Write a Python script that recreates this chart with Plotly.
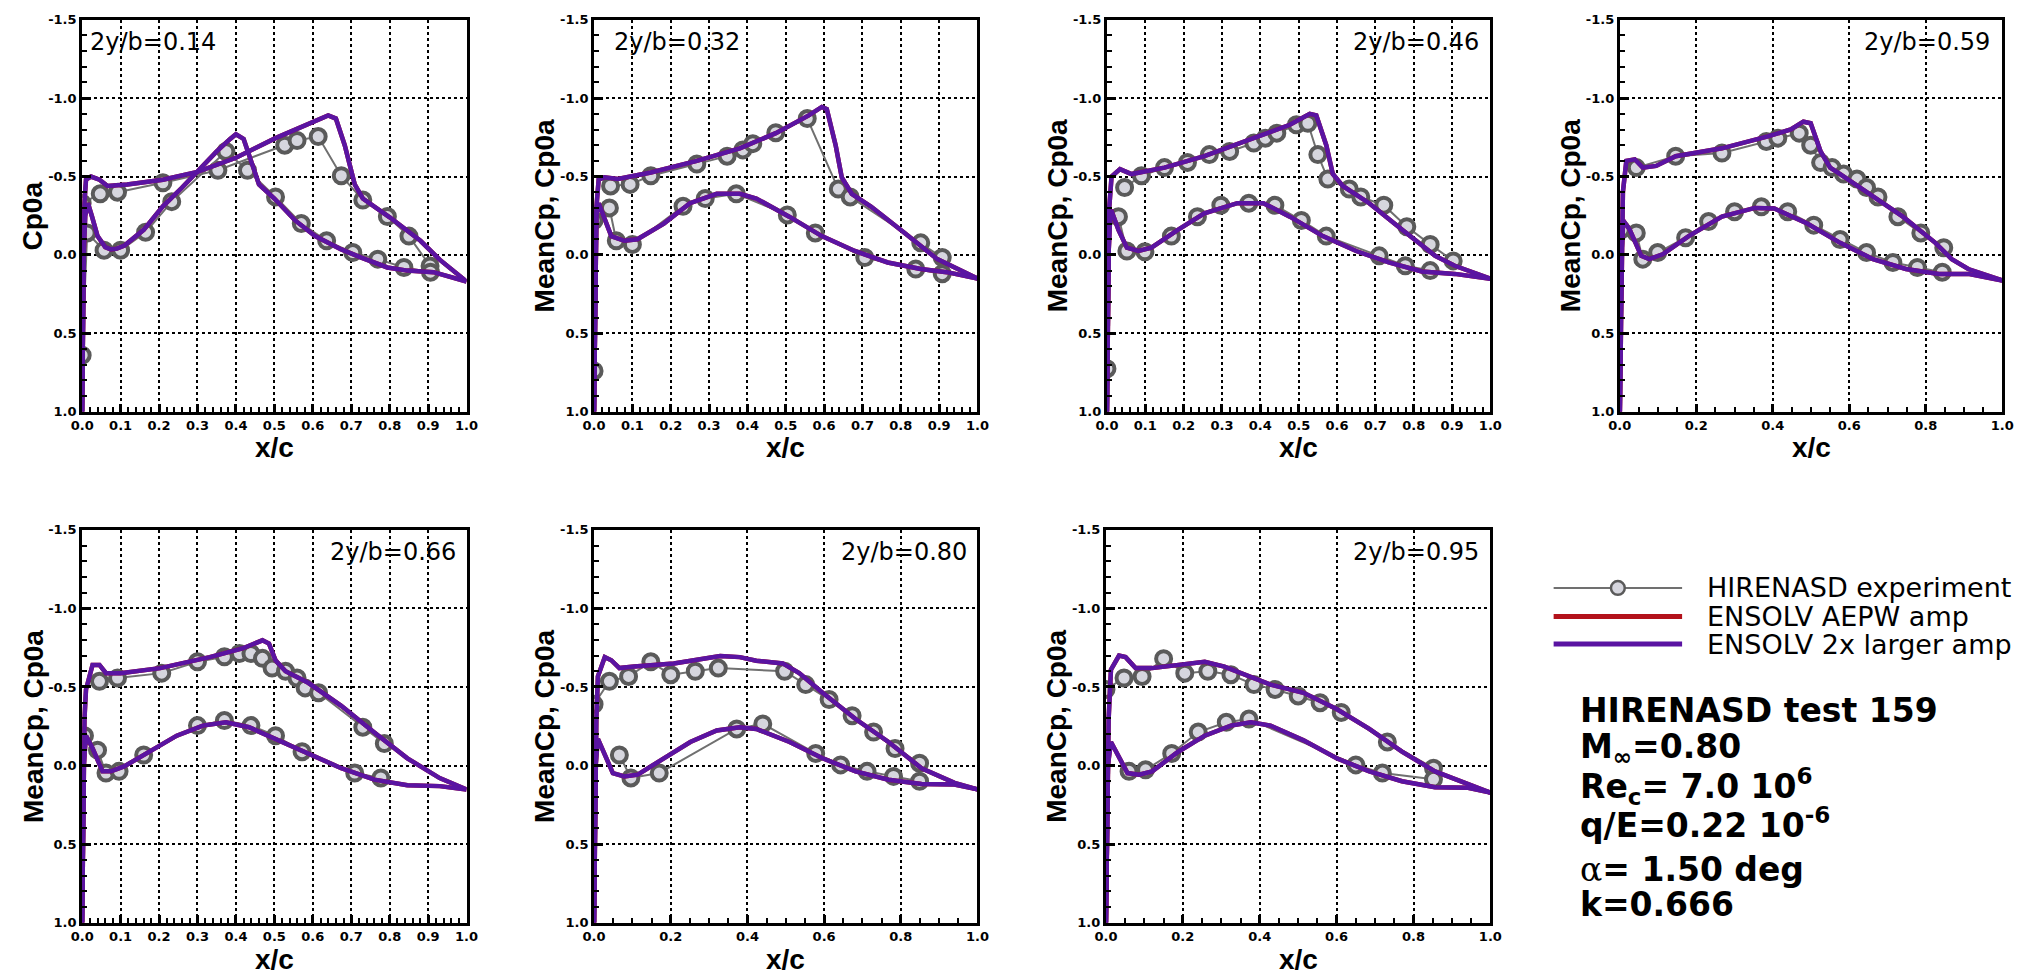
import plotly.graph_objects as go

# ---------------- data: mean Cp per span station ----------------
# 2y/b = 0.14
exp_up_x_014 = [0.0, 0.047, 0.092, 0.21, 0.353, 0.527, 0.559, 0.614, 0.674, 0.73, 0.794, 0.85, 0.905]
exp_up_cp_014 = [-0.33, -0.39, -0.40, -0.46, -0.54, -0.70, -0.73, -0.755, -0.505, -0.35, -0.245, -0.12, 0.07]
exp_lo_x_014 = [0.0, 0.013, 0.057, 0.10, 0.165, 0.233, 0.374, 0.43, 0.503, 0.57, 0.636, 0.704, 0.769, 0.837, 0.906]
exp_lo_cp_014 = [0.64, -0.14, -0.03, -0.03, -0.145, -0.34, -0.66, -0.54, -0.37, -0.20, -0.09, -0.015, 0.027, 0.08, 0.11]
cfd_up_x_014 = [0.0, 0.002, 0.005, 0.01, 0.023, 0.045, 0.066, 0.117, 0.21, 0.30, 0.40, 0.503, 0.589, 0.64, 0.66, 0.683, 0.709, 0.73, 0.80, 0.88, 0.93, 1.0]
cfd_up_cp_014 = [1.0, 0.3, -0.3, -0.48, -0.50, -0.48, -0.44, -0.45, -0.48, -0.53, -0.62, -0.745, -0.84, -0.89, -0.87, -0.70, -0.45, -0.36, -0.24, -0.09, 0.03, 0.17]
cfd_lo_x_014 = [0.0, 0.004, 0.008, 0.015, 0.025, 0.04, 0.06, 0.075, 0.09, 0.11, 0.16, 0.21, 0.26, 0.31, 0.35, 0.385, 0.40, 0.42, 0.443, 0.46, 0.50, 0.554, 0.606, 0.674, 0.726, 0.794, 0.846, 0.914, 1.0]
cfd_lo_cp_014 = [1.0, 0.0, -0.25, -0.33, -0.25, -0.12, -0.05, -0.035, -0.04, -0.06, -0.16, -0.31, -0.43, -0.56, -0.66, -0.74, -0.77, -0.74, -0.58, -0.45, -0.36, -0.22, -0.12, -0.035, 0.017, 0.08, 0.10, 0.11, 0.17]

# 2y/b = 0.32
exp_up_x_032 = [0.043, 0.094, 0.148, 0.268, 0.347, 0.388, 0.414, 0.474, 0.556, 0.637, 0.668, 0.852, 0.908]
exp_up_cp_032 = [-0.44, -0.45, -0.505, -0.58, -0.63, -0.67, -0.71, -0.78, -0.87, -0.42, -0.37, -0.077, 0.017]
exp_lo_x_032 = [0.0, 0.0, 0.04, 0.058, 0.10, 0.232, 0.29, 0.371, 0.504, 0.577, 0.706, 0.839, 0.908]
exp_lo_cp_032 = [0.74, -0.22, -0.30, -0.09, -0.067, -0.31, -0.36, -0.39, -0.255, -0.14, 0.017, 0.09, 0.12]
cfd_up_x_032 = [0.0, 0.002, 0.006, 0.012, 0.027, 0.062, 0.148, 0.268, 0.38, 0.474, 0.56, 0.594, 0.607, 0.63, 0.646, 0.672, 0.723, 0.81, 0.895, 1.0]
cfd_up_cp_032 = [1.0, 0.3, -0.3, -0.48, -0.495, -0.485, -0.526, -0.60, -0.68, -0.777, -0.89, -0.944, -0.93, -0.70, -0.495, -0.39, -0.307, -0.14, 0.027, 0.15]
cfd_lo_x_032 = [0.0, 0.003, 0.006, 0.012, 0.027, 0.045, 0.079, 0.113, 0.182, 0.25, 0.32, 0.38, 0.423, 0.509, 0.594, 0.68, 0.766, 0.852, 0.92, 1.0]
cfd_lo_cp_032 = [1.0, 0.0, -0.25, -0.33, -0.24, -0.12, -0.09, -0.10, -0.20, -0.33, -0.39, -0.39, -0.36, -0.244, -0.12, -0.025, 0.048, 0.09, 0.11, 0.15]

# 2y/b = 0.46
exp_up_x_046 = [0.046, 0.09, 0.15, 0.21, 0.267, 0.32, 0.383, 0.413, 0.443, 0.494, 0.524, 0.55, 0.576, 0.632, 0.662, 0.722, 0.782, 0.843, 0.903]
exp_up_cp_046 = [-0.43, -0.505, -0.557, -0.59, -0.64, -0.66, -0.714, -0.745, -0.777, -0.83, -0.84, -0.64, -0.484, -0.42, -0.37, -0.317, -0.18, -0.067, 0.038]
exp_lo_x_046 = [0.0, 0.0, 0.03, 0.052, 0.099, 0.168, 0.236, 0.297, 0.37, 0.438, 0.507, 0.572, 0.71, 0.778, 0.843]
exp_lo_cp_046 = [0.726, -0.244, -0.244, -0.025, -0.02, -0.12, -0.244, -0.317, -0.33, -0.317, -0.22, -0.12, 0.006, 0.069, 0.1]
cfd_up_x_046 = [0.0, 0.002, 0.006, 0.012, 0.034, 0.064, 0.15, 0.254, 0.374, 0.477, 0.529, 0.546, 0.572, 0.589, 0.615, 0.684, 0.77, 0.856, 0.907, 1.0]
cfd_up_cp_046 = [1.0, 0.3, -0.3, -0.50, -0.547, -0.516, -0.557, -0.63, -0.735, -0.83, -0.90, -0.89, -0.70, -0.516, -0.44, -0.33, -0.16, 0.006, 0.069, 0.152]
cfd_lo_x_046 = [0.0, 0.004, 0.008, 0.011, 0.03, 0.052, 0.082, 0.116, 0.185, 0.254, 0.34, 0.408, 0.477, 0.563, 0.65, 0.735, 0.821, 0.907, 1.0]
cfd_lo_cp_046 = [1.0, 0.0, -0.22, -0.286, -0.16, -0.046, -0.025, -0.046, -0.16, -0.265, -0.33, -0.33, -0.244, -0.12, -0.025, 0.048, 0.106, 0.121, 0.152]

# 2y/b = 0.59
exp_up_x_059 = [0.043, 0.146, 0.267, 0.383, 0.413, 0.469, 0.499, 0.525, 0.555, 0.585, 0.62, 0.645, 0.675, 0.727, 0.787, 0.847]
exp_up_cp_059 = [-0.557, -0.63, -0.65, -0.724, -0.745, -0.777, -0.70, -0.589, -0.557, -0.516, -0.484, -0.43, -0.37, -0.244, -0.14, -0.046]
exp_lo_x_059 = [0.004, 0.043, 0.06, 0.099, 0.172, 0.232, 0.30, 0.37, 0.439, 0.507, 0.576, 0.645, 0.714, 0.778, 0.843]
exp_lo_cp_059 = [-0.16, -0.14, 0.027, -0.015, -0.11, -0.213, -0.276, -0.307, -0.276, -0.19, -0.098, -0.015, 0.048, 0.08, 0.11]
cfd_up_x_059 = [0.0, 0.003, 0.008, 0.017, 0.039, 0.06, 0.095, 0.146, 0.267, 0.387, 0.447, 0.48, 0.499, 0.525, 0.55, 0.576, 0.653, 0.74, 0.825, 0.868, 0.911, 1.0]
cfd_up_cp_059 = [1.0, 0.2, -0.4, -0.60, -0.61, -0.557, -0.568, -0.63, -0.68, -0.756, -0.80, -0.85, -0.84, -0.66, -0.557, -0.516, -0.39, -0.244, -0.077, 0.027, 0.09, 0.163]
cfd_lo_x_059 = [0.0, 0.004, 0.009, 0.026, 0.056, 0.077, 0.112, 0.18, 0.267, 0.353, 0.404, 0.49, 0.576, 0.662, 0.748, 0.834, 0.911, 1.0]
cfd_lo_cp_059 = [1.0, 0.0, -0.22, -0.16, 0.006, 0.027, -0.004, -0.12, -0.244, -0.30, -0.296, -0.20, -0.077, 0.027, 0.09, 0.121, 0.121, 0.163]

# 2y/b = 0.66
exp_up_x_066 = [0.045, 0.092, 0.207, 0.30, 0.37, 0.409, 0.439, 0.469, 0.494, 0.529, 0.559, 0.58, 0.615, 0.73, 0.786]
exp_up_cp_066 = [-0.536, -0.557, -0.588, -0.66, -0.692, -0.713, -0.713, -0.682, -0.62, -0.60, -0.557, -0.494, -0.463, -0.244, -0.14]
exp_lo_x_066 = [0.006, 0.04, 0.062, 0.096, 0.16, 0.30, 0.37, 0.439, 0.503, 0.572, 0.709, 0.777]
exp_lo_cp_066 = [-0.19, -0.098, 0.048, 0.037, -0.067, -0.254, -0.286, -0.254, -0.19, -0.088, 0.048, 0.079]
cfd_up_x_066 = [0.0, 0.003, 0.006, 0.01, 0.027, 0.045, 0.062, 0.10, 0.203, 0.332, 0.417, 0.469, 0.486, 0.503, 0.529, 0.589, 0.674, 0.76, 0.846, 0.93, 1.0]
cfd_up_cp_066 = [1.0, 0.2, -0.3, -0.484, -0.64, -0.64, -0.588, -0.588, -0.62, -0.69, -0.745, -0.797, -0.776, -0.67, -0.60, -0.525, -0.38, -0.21, -0.046, 0.08, 0.152]
cfd_lo_x_066 = [0.0, 0.004, 0.01, 0.027, 0.053, 0.075, 0.109, 0.177, 0.246, 0.314, 0.374, 0.434, 0.503, 0.589, 0.674, 0.76, 0.846, 0.93, 1.0]
cfd_lo_cp_066 = [1.0, 0.0, -0.19, -0.11, 0.037, 0.037, 0.006, -0.088, -0.19, -0.254, -0.275, -0.244, -0.171, -0.077, 0.017, 0.09, 0.125, 0.131, 0.152]

# 2y/b = 0.80
exp_up_x_080 = [0.0, 0.04, 0.09, 0.148, 0.20, 0.264, 0.324, 0.497, 0.552, 0.613, 0.673, 0.729, 0.785, 0.849]
exp_up_cp_080 = [-0.39, -0.536, -0.567, -0.66, -0.578, -0.60, -0.62, -0.60, -0.515, -0.42, -0.317, -0.213, -0.108, -0.015]
exp_lo_x_080 = [0.066, 0.096, 0.17, 0.372, 0.44, 0.578, 0.643, 0.712, 0.781, 0.849]
exp_lo_cp_080 = [-0.067, 0.079, 0.048, -0.233, -0.265, -0.077, -0.004, 0.037, 0.069, 0.1]
cfd_up_x_080 = [0.0, 0.003, 0.006, 0.01, 0.028, 0.045, 0.066, 0.105, 0.208, 0.329, 0.38, 0.423, 0.492, 0.535, 0.596, 0.682, 0.768, 0.854, 0.94, 1.0]
cfd_up_cp_080 = [1.0, 0.2, -0.3, -0.567, -0.69, -0.67, -0.62, -0.63, -0.65, -0.697, -0.69, -0.667, -0.65, -0.588, -0.463, -0.296, -0.15, 0.017, 0.11, 0.152]
cfd_lo_x_080 = [0.0, 0.004, 0.01, 0.028, 0.049, 0.079, 0.114, 0.182, 0.251, 0.32, 0.38, 0.423, 0.51, 0.596, 0.682, 0.768, 0.854, 0.94, 1.0]
cfd_lo_cp_080 = [1.0, 0.0, -0.17, -0.067, 0.048, 0.069, 0.058, -0.046, -0.15, -0.223, -0.244, -0.233, -0.15, -0.046, 0.037, 0.09, 0.117, 0.121, 0.152]

# 2y/b = 0.95
exp_up_x_095 = [0.0, 0.047, 0.094, 0.15, 0.205, 0.265, 0.325, 0.385, 0.44, 0.50, 0.557, 0.612, 0.732, 0.852]
exp_up_cp_095 = [-0.484, -0.557, -0.567, -0.68, -0.588, -0.60, -0.578, -0.515, -0.484, -0.443, -0.40, -0.338, -0.15, 0.017]
exp_lo_x_095 = [0.06, 0.103, 0.171, 0.24, 0.313, 0.372, 0.65, 0.719, 0.852]
exp_lo_cp_095 = [0.037, 0.027, -0.077, -0.213, -0.275, -0.296, -0.004, 0.048, 0.088]
cfd_up_x_095 = [0.0, 0.003, 0.007, 0.013, 0.034, 0.051, 0.077, 0.12, 0.214, 0.257, 0.308, 0.428, 0.514, 0.60, 0.685, 0.77, 0.856, 0.942, 1.0]
cfd_up_cp_095 = [1.0, 0.2, -0.3, -0.61, -0.70, -0.69, -0.62, -0.62, -0.65, -0.66, -0.63, -0.515, -0.463, -0.36, -0.233, -0.088, 0.037, 0.12, 0.172]
cfd_lo_x_095 = [0.0, 0.005, 0.013, 0.034, 0.056, 0.086, 0.12, 0.188, 0.257, 0.325, 0.377, 0.428, 0.514, 0.60, 0.685, 0.77, 0.856, 0.942, 1.0]
cfd_lo_cp_095 = [1.0, 0.0, -0.15, -0.046, 0.048, 0.058, 0.037, -0.088, -0.19, -0.254, -0.275, -0.254, -0.16, -0.046, 0.037, 0.1, 0.138, 0.142, 0.172]

station_labels = ["2y/b=0.14", "2y/b=0.32", "2y/b=0.46", "2y/b=0.59", "2y/b=0.66", "2y/b=0.80", "2y/b=0.95"]
y_titles = ["Cp0a", "MeanCp, Cp0a", "MeanCp, Cp0a", "MeanCp, Cp0a", "MeanCp, Cp0a", "MeanCp, Cp0a", "MeanCp, Cp0a"]

y_tick_vals = [-1.5, -1.0, -0.5, 0.0, 0.5, 1.0]
y_tick_labels = ["-1.5", "-1.0", "-0.5", "0.0", "0.5", "1.0"]
x_tick_vals_fine = [0.0, 0.1, 0.2, 0.3, 0.4, 0.5, 0.6, 0.7, 0.8, 0.9, 1.0]
x_tick_labels_fine = ["0.0", "0.1", "0.2", "0.3", "0.4", "0.5", "0.6", "0.7", "0.8", "0.9", "1.0"]
x_tick_vals_coarse = [0.0, 0.2, 0.4, 0.6, 0.8, 1.0]
x_tick_labels_coarse = ["0.0", "0.2", "0.4", "0.6", "0.8", "1.0"]

legend_names = ["HIRENASD experiment", "ENSOLV AEPW amp", "ENSOLV 2x larger amp"]

# ---------------- styling / layout ----------------
W, H = 2038, 974
EXP_LINE = "#707070"
EXP_EDGE = "#5a5a5a"
EXP_FILL = "#d6d6de"
AEPW_RED = "#b3121b"
LARGE_PURPLE = "#5a14a2"

stations = [
    (exp_up_x_014, exp_up_cp_014, exp_lo_x_014, exp_lo_cp_014, cfd_up_x_014, cfd_up_cp_014, cfd_lo_x_014, cfd_lo_cp_014),
    (exp_up_x_032, exp_up_cp_032, exp_lo_x_032, exp_lo_cp_032, cfd_up_x_032, cfd_up_cp_032, cfd_lo_x_032, cfd_lo_cp_032),
    (exp_up_x_046, exp_up_cp_046, exp_lo_x_046, exp_lo_cp_046, cfd_up_x_046, cfd_up_cp_046, cfd_lo_x_046, cfd_lo_cp_046),
    (exp_up_x_059, exp_up_cp_059, exp_lo_x_059, exp_lo_cp_059, cfd_up_x_059, cfd_up_cp_059, cfd_lo_x_059, cfd_lo_cp_059),
    (exp_up_x_066, exp_up_cp_066, exp_lo_x_066, exp_lo_cp_066, cfd_up_x_066, cfd_up_cp_066, cfd_lo_x_066, cfd_lo_cp_066),
    (exp_up_x_080, exp_up_cp_080, exp_lo_x_080, exp_lo_cp_080, cfd_up_x_080, cfd_up_cp_080, cfd_lo_x_080, cfd_lo_cp_080),
    (exp_up_x_095, exp_up_cp_095, exp_lo_x_095, exp_lo_cp_095, cfd_up_x_095, cfd_up_cp_095, cfd_lo_x_095, cfd_lo_cp_095),
]

# plot frames in pixels: left, right, top, bottom
frames = [
    (71, 460, 13, 411), (589, 977, 13, 411), (1108, 1496, 13, 411), (1627, 2014, 13, 411),
    (71, 460, 531, 930), (589, 977, 531, 930), (1107, 1496, 531, 930),
]
coarse_x = [False, False, False, True, False, True, True]
# station label: (x pixel, anchor)
label_pos = [(77, "left"), (607, "left"), (1486, "right"), (2004, "right"),
             (451, "right"), (968, "right"), (1486, "right")]
# x-title offset below each frame
xtitle_gap = [36, 36, 36, 36, 37, 37, 37]


def px(x):
    return x / W


def py(y):
    return 1 - y / H


fig = go.Figure()
annotations = []
layout_axes = {}

for i, (data, frame) in enumerate(zip(stations, frames)):
    eux, euc, elx, elc, cux, cuc, clx, clc = data
    n = i + 1
    xa, ya = f"x{n}", f"y{n}"
    # experiment, upper and lower surfaces
    for xs, cs in ((eux, euc), (elx, elc)):
        fig.add_trace(go.Scatter(
            x=xs, y=cs, xaxis=xa, yaxis=ya, mode="lines+markers", showlegend=False,
            line=dict(color=EXP_LINE, width=2),
            marker=dict(symbol="circle", size=15, color=EXP_FILL,
                        line=dict(color=EXP_EDGE, width=4)),
        ))
    # ENSOLV results: AEPW amplitude underneath, 2x amplitude on top (coincident at this scale)
    for colr in (AEPW_RED, LARGE_PURPLE):
        for xs, cs in ((cux, cuc), (clx, clc)):
            fig.add_trace(go.Scatter(
                x=xs, y=cs, xaxis=xa, yaxis=ya, mode="lines", showlegend=False,
                line=dict(color=colr, width=4.5),
            ))

    l, r, t, b = frame
    coarse = coarse_x[i]
    key = "" if n == 1 else str(n)
    layout_axes[f"xaxis{key}"] = dict(
        domain=[px(l), px(r)], anchor=ya, range=[0, 1],
        tickmode="array",
        tickvals=x_tick_vals_coarse if coarse else x_tick_vals_fine,
        ticktext=x_tick_labels_coarse if coarse else x_tick_labels_fine,
        ticks="inside", ticklen=8, tickwidth=3, tickcolor="black",
        minor=dict(tickmode="linear", tick0=0, dtick=0.05 if coarse else 0.02,
                   ticks="inside", ticklen=5, tickwidth=1.5, tickcolor="black", showgrid=False),
        showgrid=True, gridcolor="black", gridwidth=2, griddash="dot",
        showline=True, linecolor="black", linewidth=3, mirror=True, zeroline=False,
        tickfont=dict(family="DejaVu Sans", size=13, color="black", weight="bold"),
    )
    layout_axes[f"yaxis{key}"] = dict(
        domain=[py(b), py(t)], anchor=xa, range=[1.0, -1.5],
        tickmode="array", tickvals=y_tick_vals, ticktext=y_tick_labels,
        ticks="inside", ticklen=9, tickwidth=3, tickcolor="black",
        minor=dict(tickmode="linear", tick0=0, dtick=0.1,
                   ticks="inside", ticklen=5, tickwidth=1.5, tickcolor="black", showgrid=False),
        showgrid=True, gridcolor="black", gridwidth=2, griddash="dot",
        showline=True, linecolor="black", linewidth=3, mirror=True, zeroline=False,
        tickfont=dict(family="DejaVu Sans", size=13, color="black", weight="bold"),
    )

    # station label
    lx, anc = label_pos[i]
    annotations.append(dict(
        text=station_labels[i], x=px(lx), y=py(t + 23), xref="paper", yref="paper",
        xanchor=anc, yanchor="middle", showarrow=False,
        font=dict(family="DejaVu Sans", size=24, color="black"),
    ))
    # y title
    annotations.append(dict(
        text=f"<b>{y_titles[i]}</b>", x=px(l - 50), y=py((t + b) / 2), xref="paper", yref="paper",
        xanchor="center", yanchor="middle", textangle=-90, showarrow=False,
        font=dict(family="Liberation Sans", size=28, color="black"),
    ))
    # x title
    annotations.append(dict(
        text="<b>x/c</b>", x=px((l + r) / 2), y=py(b + xtitle_gap[i]), xref="paper", yref="paper",
        xanchor="center", yanchor="middle", showarrow=False,
        font=dict(family="Liberation Sans", size=28, color="black"),
    ))

# legend block
shapes = []
legend_rows = [590, 619, 647]
legend_styles = [(EXP_LINE, 2), (AEPW_RED, 5), (LARGE_PURPLE, 5)]
for yrow, (colr, wdt), name in zip(legend_rows, legend_styles, legend_names):
    shapes.append(dict(type="line", xref="paper", yref="paper",
                       x0=px(1560), x1=px(1690), y0=py(yrow), y1=py(yrow),
                       line=dict(color=colr, width=wdt)))
    annotations.append(dict(
        text=name, x=px(1713), y=py(yrow), xref="paper", yref="paper",
        xanchor="left", yanchor="middle", showarrow=False,
        font=dict(family="DejaVu Sans", size=27, color="black"),
    ))
shapes.append(dict(type="circle", xref="paper", yref="paper",
                   x0=px(1618), x1=px(1632), y0=py(597), y1=py(583),
                   fillcolor=EXP_FILL, line=dict(color=EXP_EDGE, width=2.5)))

# test conditions
cond_lines = [
    ("<b>HIRENASD test 159</b>", 715),
    ("<b>M<sub>∞</sub>=0.80</b>", 753),
    ("<b>Re<sub>c</sub>= 7.0 10<sup>6</sup></b>", 792),
    ("<b>q/E=0.22 10<sup>-6</sup></b>", 829),
    ("<span style=\"font-family:'DejaVu Serif';\">α</span><b>= 1.50 deg</b>", 876),
    ("<b>k=0.666</b>", 912),
]
for txt, yrow in cond_lines:
    annotations.append(dict(
        text=txt, x=px(1585), y=py(yrow), xref="paper", yref="paper",
        xanchor="left", yanchor="middle", showarrow=False,
        font=dict(family="DejaVu Sans", size=33, color="black"),
    ))

fig.update_layout(
    width=W, height=H, margin=dict(l=0, r=0, t=0, b=0),
    paper_bgcolor="white", plot_bgcolor="white",
    showlegend=False, annotations=annotations, shapes=shapes,
    **layout_axes,
)

fig.write_html("out.html")
